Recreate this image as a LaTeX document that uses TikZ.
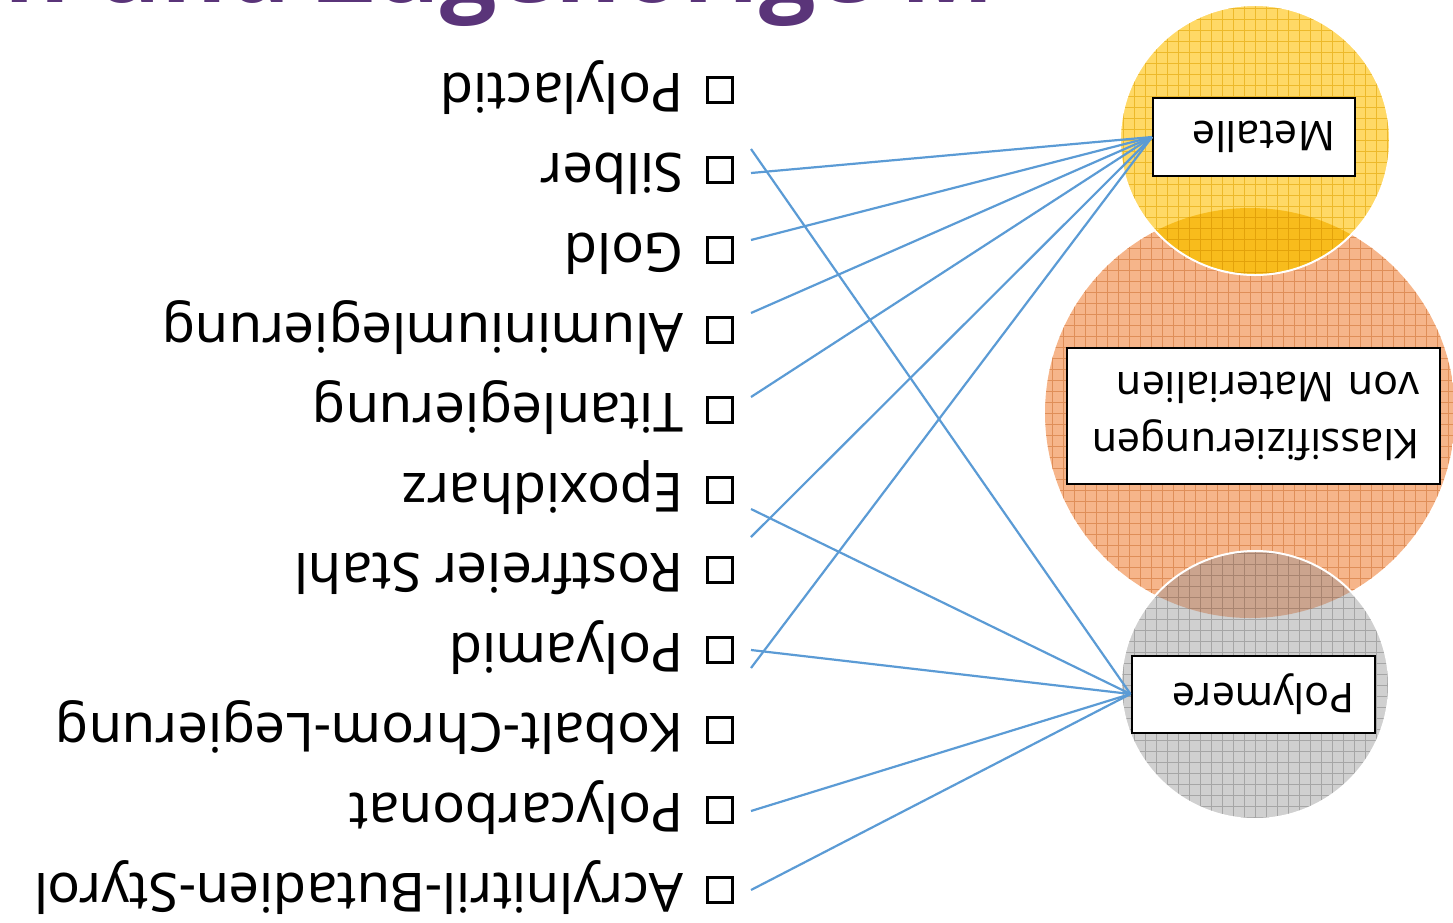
\documentclass[tikz,border=0pt]{standalone}
\usepackage{fontspec}
\setmainfont{Noto Sans}
\newfontfamily\titlefont{Open Sans}
\definecolor{linblue}{HTML}{5B9BD5}
\definecolor{titlepurple}{HTML}{5A3479}
\definecolor{yelfill}{HTML}{FFD966}
\definecolor{yelgrid}{HTML}{EDB92A}
\definecolor{orafill}{HTML}{F6B58A}
\definecolor{oragrid}{HTML}{DF8E58}
\definecolor{gryfill}{HTML}{D0D0D0}
\definecolor{grygrid}{HTML}{A6A6A6}
\definecolor{yelovl}{HTML}{F8BC1C}
\definecolor{yelovlgrid}{HTML}{E3A20A}
\definecolor{gryovl}{HTML}{CBA48E}
\definecolor{gryovlgrid}{HTML}{A88470}

\begin{document}
\begin{tikzpicture}
      [x=1pt,y=-1pt
      ,lin/.style={color=linblue,line width=2.2pt}
      ,chk/.style={draw,line width=2.5pt,minimum size=25pt,inner sep=0pt}
      ,itm/.style={rotate=180,anchor=base west,inner sep=0pt,font=\fontsize{54}{60}\selectfont}
      ,grp/.style={rotate=180,draw,fill=white,line width=2pt,align=left,inner xsep=20pt,inner ysep=0pt,font=\fontsize{41}{57}\selectfont}
      ]
        \useasboundingbox (0,0) rectangle (1453,922);
        \clip (0,0) rectangle (1453,922);
        \node[anchor=base west,inner sep=0pt,text=titlepurple,font=\titlefont\fontsize{100}{106}\selectfont\bfseries] (title) at (4,2) {n und Zugehörige M};
        % circles with grid
        \foreach \cx/\cy/\rad/\fc/\gc in {1250/413/205/orafill/oragrid,1255/140/135/yelfill/yelgrid,1255/685/134/gryfill/grygrid}{
          \begin{scope}
            \clip (\cx,\cy) circle[radius=\rad pt];
            \fill[\fc] (\cx-\rad,\cy-\rad) rectangle (\cx+\rad,\cy+\rad);
            \foreach \g in {-19,...,19}{
              \draw[\gc,line width=.6pt] (\cx+\g*11,\cy-\rad) -- (\cx+\g*11,\cy+\rad);
              \draw[\gc,line width=.6pt] (\cx-\rad,\cy+\g*11) -- (\cx+\rad,\cy+\g*11);
            }
          \end{scope}
        }
        \foreach \cx/\cy/\rad/\fc/\gc in {1255/140/135/yelovl/yelovlgrid,1255/685/134/gryovl/gryovlgrid}{
          \begin{scope}
            \clip (1250,413) circle[radius=205pt];
            \clip (\cx,\cy) circle[radius=\rad pt];
            \fill[\fc] (\cx-\rad,\cy-\rad) rectangle (\cx+\rad,\cy+\rad);
            \foreach \g in {-13,...,13}{
              \draw[\gc,line width=.6pt] (\cx+\g*11,\cy-\rad) -- (\cx+\g*11,\cy+\rad);
              \draw[\gc,line width=.6pt] (\cx-\rad,\cy+\g*11) -- (\cx+\rad,\cy+\g*11);
            }
          \end{scope}
          \draw[white,line width=2pt] (\cx,\cy) circle[radius=\rad pt];
        }
        % group boxes
        \node[grp,text width=162pt,minimum height=78pt] (metal) at (1254,137) {Metalle};
        \node[grp,text width=333pt,minimum height=136pt] (klass) at (1253,416) {Klassifizierungen\\von Materialien};
        \node[grp,text width=203pt,minimum height=77pt] (poly) at (1253,694) {Polymere};
        % list
        \foreach \name [count=\i] in {Polylactid,Silber,Gold,Aluminiumlegierung,Titanlegierung,Epoxidharz,Rostfreier Stahl,Polyamid,Kobalt-Chrom-Legierung,Polycarbonat,Acrylnitril-Butadien-Styrol}{
          \node[chk] (c\i) at (720,10+80*\i) {};
          \node[itm] (t\i) at (684,-7+80*\i) {\name};
        }
        % connectors
        \foreach \y in {173,240,313,397,537,668}{
          \coordinate (m\y) at (751,\y);
          \draw[lin] (m\y) -- (metal.east);
        }
        \foreach \y in {149,509,650,811,890}{
          \coordinate (p\y) at (751,\y);
          \draw[lin] (p\y) -- (poly.east);
        }
      \end{tikzpicture}
\end{document}
